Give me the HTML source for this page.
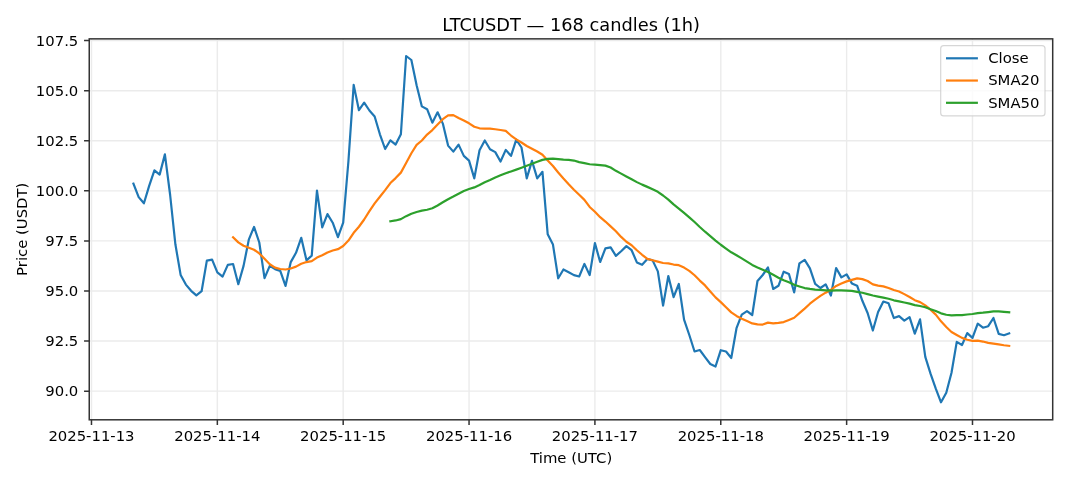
<!DOCTYPE html>
<html><head><meta charset="utf-8"><title>LTCUSDT chart</title>
<style>html,body{margin:0;padding:0;background:#fff}svg{display:block}</style></head>
<body>
<svg width="1068" height="481" viewBox="0 0 1068 481" font-family="DejaVu Sans, Liberation Sans, sans-serif" fill="#000">
<rect width="1068" height="481" fill="#fff"/>
<path d="M91.48,38.86 V419.8 M217.34,38.86 V419.8 M343.19,38.86 V419.8 M469.05,38.86 V419.8 M594.91,38.86 V419.8 M720.77,38.86 V419.8 M846.63,38.86 V419.8 M972.49,38.86 V419.8 M89.25,391.13 H1052.7 M89.25,341.05 H1052.7 M89.25,290.98 H1052.7 M89.25,240.90 H1052.7 M89.25,190.83 H1052.7 M89.25,140.75 H1052.7 M89.25,90.68 H1052.7 M89.25,40.60 H1052.7" stroke="#b0b0b0" stroke-opacity="0.26" stroke-width="1.4" fill="none"/>
<path d="M91.48,419.8 v5.2 M217.34,419.8 v5.2 M343.19,419.8 v5.2 M469.05,419.8 v5.2 M594.91,419.8 v5.2 M720.77,419.8 v5.2 M846.63,419.8 v5.2 M972.49,419.8 v5.2 M89.25,391.13 h-5.2 M89.25,341.05 h-5.2 M89.25,290.98 h-5.2 M89.25,240.90 h-5.2 M89.25,190.83 h-5.2 M89.25,140.75 h-5.2 M89.25,90.68 h-5.2 M89.25,40.60 h-5.2" stroke="#333" stroke-width="1.5" fill="none"/>
<clipPath id="c"><rect x="89.25" y="38.86" width="963.45" height="380.94"/></clipPath>
<g clip-path="url(#c)" fill="none" stroke-width="2.2" stroke-linejoin="round" stroke-linecap="square">
<path d="M133.43,183.60 L138.67,197.10 L143.92,203.30 L149.16,185.90 L154.41,170.30 L159.65,174.60 L164.89,154.40 L170.14,195.00 L175.38,244.30 L180.63,274.90 L185.87,284.60 L191.12,290.80 L196.36,295.30 L201.60,291.20 L206.85,260.60 L212.09,259.70 L217.34,272.40 L222.58,276.60 L227.82,264.90 L233.07,264.00 L238.31,284.20 L243.56,265.90 L248.80,239.70 L254.04,226.90 L259.29,242.50 L264.53,278.10 L269.78,265.90 L275.02,269.10 L280.26,270.90 L285.51,285.90 L290.75,262.10 L296.00,252.80 L301.24,237.80 L306.49,260.30 L311.73,255.70 L316.97,190.70 L322.22,227.40 L327.46,214.10 L332.71,222.70 L337.95,237.10 L343.19,222.70 L348.44,161.00 L353.68,84.90 L358.93,110.20 L364.17,102.70 L369.41,110.50 L374.66,116.50 L379.90,134.30 L385.15,149.00 L390.39,140.30 L395.64,144.60 L400.88,134.30 L406.12,56.00 L411.37,60.00 L416.61,85.30 L421.86,106.40 L427.10,109.20 L432.34,122.70 L437.59,112.30 L442.83,123.60 L448.08,145.60 L453.32,151.60 L458.56,144.60 L463.81,155.90 L469.05,160.60 L474.30,178.40 L479.54,150.30 L484.78,140.50 L490.03,149.30 L495.27,152.10 L500.52,161.50 L505.76,149.90 L511.01,155.90 L516.25,139.60 L521.49,147.50 L526.74,178.40 L531.98,160.90 L537.23,178.40 L542.47,171.80 L547.71,234.30 L552.96,244.60 L558.20,278.30 L563.45,269.50 L568.69,272.20 L573.93,275.10 L579.18,276.50 L584.42,263.90 L589.67,275.10 L594.91,243.10 L600.15,262.00 L605.40,248.40 L610.64,247.40 L615.89,255.90 L621.13,251.20 L626.38,246.10 L631.62,250.20 L636.86,262.40 L642.11,264.80 L647.35,259.00 L652.60,260.40 L657.84,271.40 L663.08,305.60 L668.33,276.00 L673.57,297.10 L678.82,284.00 L684.06,319.60 L689.30,335.00 L694.55,351.50 L699.79,350.00 L705.04,357.10 L710.28,364.00 L715.53,366.50 L720.77,350.20 L726.01,351.50 L731.26,358.00 L736.50,328.20 L741.75,314.70 L746.99,311.20 L752.23,315.00 L757.48,281.00 L762.72,275.00 L767.97,267.40 L773.21,289.00 L778.45,285.80 L783.70,271.70 L788.94,274.00 L794.19,292.40 L799.43,263.30 L804.67,259.90 L809.92,268.40 L815.16,283.90 L820.41,288.00 L825.65,284.30 L830.90,295.50 L836.14,268.00 L841.38,277.40 L846.63,274.40 L851.87,283.40 L857.12,285.70 L862.36,300.80 L867.60,313.00 L872.85,330.50 L878.09,312.00 L883.34,301.50 L888.58,303.30 L893.82,318.00 L899.07,316.10 L904.31,320.60 L909.56,317.10 L914.80,333.70 L920.05,319.30 L925.29,356.80 L930.53,373.70 L935.78,388.70 L941.02,402.30 L946.27,392.80 L951.51,372.80 L956.75,341.90 L962.00,345.00 L967.24,333.10 L972.49,337.90 L977.73,323.70 L982.97,327.70 L988.22,326.20 L993.46,318.00 L998.71,333.90 L1003.95,335.20 L1009.19,333.40" stroke="#1f77b4"/>
<path d="M233.07,237.19 L238.31,242.35 L243.56,245.72 L248.80,247.78 L254.04,249.76 L259.29,253.41 L264.53,258.80 L269.78,264.24 L275.02,267.69 L280.26,269.00 L285.51,269.53 L290.75,268.52 L296.00,266.62 L301.24,263.78 L306.49,262.06 L311.73,261.13 L316.97,257.56 L322.22,255.28 L327.46,252.52 L332.71,250.52 L337.95,249.19 L343.19,245.96 L348.44,240.53 L353.68,232.76 L358.93,226.75 L364.17,219.50 L369.41,211.11 L374.66,203.43 L379.90,196.71 L385.15,190.16 L390.39,183.07 L395.64,178.08 L400.88,172.62 L406.12,163.07 L411.37,153.22 L416.61,144.91 L421.86,140.50 L427.10,134.55 L432.34,130.11 L437.59,124.50 L442.83,119.16 L448.08,115.34 L453.32,115.10 L458.56,118.04 L463.81,120.49 L469.05,123.33 L474.30,126.73 L479.54,128.32 L484.78,128.63 L490.03,128.64 L495.27,129.23 L500.52,130.00 L505.76,130.90 L511.01,135.54 L516.25,139.38 L521.49,142.54 L526.74,146.04 L531.98,148.73 L537.23,151.52 L542.47,154.71 L547.71,160.48 L552.96,166.00 L558.20,172.47 L563.45,178.59 L568.69,184.30 L573.93,189.76 L579.18,194.76 L584.42,199.85 L589.67,206.97 L594.91,211.81 L600.15,217.21 L605.40,221.53 L610.64,226.32 L615.89,231.32 L621.13,236.91 L626.38,241.73 L631.62,245.22 L636.86,250.26 L642.11,254.77 L647.35,258.85 L652.60,260.25 L657.84,261.67 L663.08,263.00 L668.33,263.32 L673.57,264.54 L678.82,265.16 L684.06,267.59 L689.30,270.87 L694.55,275.23 L699.79,280.60 L705.04,285.43 L710.28,291.52 L715.53,297.39 L720.77,302.10 L726.01,307.26 L731.26,312.41 L736.50,315.96 L741.75,318.76 L746.99,321.02 L752.23,323.38 L757.48,324.44 L762.72,324.53 L767.97,322.62 L773.21,323.35 L778.45,322.87 L783.70,322.11 L788.94,319.92 L794.19,317.75 L799.43,313.20 L804.67,308.60 L809.92,303.73 L815.16,299.73 L820.41,295.91 L825.65,292.67 L830.90,289.77 L836.14,285.92 L841.38,283.50 L846.63,281.39 L851.87,279.85 L857.12,278.36 L862.36,279.11 L867.60,281.01 L872.85,284.38 L878.09,285.56 L883.34,286.35 L888.58,287.99 L893.82,290.04 L899.07,291.49 L904.31,294.12 L909.56,296.95 L914.80,300.18 L920.05,302.12 L925.29,305.44 L930.53,309.72 L935.78,314.65 L941.02,321.31 L946.27,326.99 L951.51,332.00 L956.75,334.97 L962.00,337.85 L967.24,339.75 L972.49,340.83 L977.73,340.61 L982.97,341.55 L988.22,342.82 L993.46,343.63 L998.71,344.43 L1003.95,345.26 L1009.19,345.88" stroke="#ff7f0e"/>
<path d="M390.39,221.25 L395.64,220.46 L400.88,219.14 L406.12,216.16 L411.37,213.75 L416.61,211.95 L421.86,210.62 L427.10,209.72 L432.34,208.25 L437.59,205.53 L442.83,202.31 L448.08,199.22 L453.32,196.53 L458.56,193.68 L463.81,191.02 L469.05,189.07 L474.30,187.41 L479.54,184.99 L484.78,182.23 L490.03,179.97 L495.27,177.50 L500.52,175.32 L505.76,173.17 L511.01,171.43 L516.25,169.65 L521.49,167.75 L526.74,165.81 L531.98,163.81 L537.23,161.80 L542.47,159.86 L547.71,158.89 L552.96,158.62 L558.20,159.07 L563.45,159.64 L568.69,159.96 L573.93,160.55 L579.18,162.16 L584.42,163.08 L589.67,164.24 L594.91,164.64 L600.15,165.09 L605.40,165.60 L610.64,167.51 L615.89,170.82 L621.13,173.63 L626.38,176.46 L631.62,179.26 L636.86,182.12 L642.11,184.62 L647.35,186.88 L652.60,189.28 L657.84,191.84 L663.08,195.51 L668.33,199.66 L673.57,204.43 L678.82,208.56 L684.06,212.95 L689.30,217.31 L694.55,222.04 L699.79,227.02 L705.04,231.70 L710.28,236.04 L715.53,240.54 L720.77,244.74 L726.01,248.60 L731.26,252.32 L736.50,255.22 L741.75,258.37 L746.99,261.67 L752.23,264.93 L757.48,267.42 L762.72,269.70 L767.97,272.08 L773.21,274.81 L778.45,277.67 L783.70,280.31 L788.94,282.22 L794.19,284.69 L799.43,286.43 L804.67,288.06 L809.92,288.91 L815.16,289.55 L820.41,289.95 L825.65,290.29 L830.90,290.53 L836.14,290.46 L841.38,290.47 L846.63,290.67 L851.87,290.90 L857.12,291.83 L862.36,292.77 L867.60,294.11 L872.85,295.54 L878.09,296.61 L883.34,297.66 L888.58,298.73 L893.82,300.31 L899.07,301.39 L904.31,302.50 L909.56,303.68 L914.80,305.07 L920.05,306.00 L925.29,307.26 L930.53,309.19 L935.78,311.00 L941.02,313.33 L946.27,314.72 L951.51,315.39 L956.75,315.20 L962.00,315.05 L967.24,314.51 L972.49,314.00 L977.73,313.17 L982.97,312.69 L988.22,312.04 L993.46,311.29 L998.71,311.35 L1003.95,311.80 L1009.19,312.32" stroke="#2ca02c"/>
</g>
<rect x="89.25" y="38.86" width="963.45" height="380.94" fill="none" stroke="#333" stroke-width="1.5"/>
<text x="91.48" y="441.3" font-size="14.83" text-anchor="middle">2025-11-13</text>
<text x="217.34" y="441.3" font-size="14.83" text-anchor="middle">2025-11-14</text>
<text x="343.19" y="441.3" font-size="14.83" text-anchor="middle">2025-11-15</text>
<text x="469.05" y="441.3" font-size="14.83" text-anchor="middle">2025-11-16</text>
<text x="594.91" y="441.3" font-size="14.83" text-anchor="middle">2025-11-17</text>
<text x="720.77" y="441.3" font-size="14.83" text-anchor="middle">2025-11-18</text>
<text x="846.63" y="441.3" font-size="14.83" text-anchor="middle">2025-11-19</text>
<text x="972.49" y="441.3" font-size="14.83" text-anchor="middle">2025-11-20</text>
<text x="78.3" y="396.33" font-size="14.83" text-anchor="end">90.0</text>
<text x="78.3" y="346.25" font-size="14.83" text-anchor="end">92.5</text>
<text x="78.3" y="296.18" font-size="14.83" text-anchor="end">95.0</text>
<text x="78.3" y="246.10" font-size="14.83" text-anchor="end">97.5</text>
<text x="78.3" y="196.03" font-size="14.83" text-anchor="end">100.0</text>
<text x="78.3" y="145.95" font-size="14.83" text-anchor="end">102.5</text>
<text x="78.3" y="95.88" font-size="14.83" text-anchor="end">105.0</text>
<text x="78.3" y="45.80" font-size="14.83" text-anchor="end">107.5</text>
<text x="571.2" y="462.6" font-size="14.83" text-anchor="middle">Time (UTC)</text>
<text transform="translate(26.7,229.3) rotate(-90)" font-size="14.83" text-anchor="middle">Price (USDT)</text>
<text x="571.2" y="31.0" font-size="17.8" text-anchor="middle">LTCUSDT — 168 candles (1h)</text>
<rect x="940.7" y="45.6" width="104.29999999999995" height="70.30000000000001" rx="3" ry="3" fill="#fff" fill-opacity="0.8" stroke="#ccc" stroke-opacity="0.8" stroke-width="1.19"/>
<path d="M947.1,58.30 h29.7" stroke="#1f77b4" stroke-width="2.2" stroke-linecap="square" fill="none"/>
<text x="988.2" y="63.00" font-size="14.83">Close</text>
<path d="M947.1,80.55 h29.7" stroke="#ff7f0e" stroke-width="2.2" stroke-linecap="square" fill="none"/>
<text x="988.2" y="85.25" font-size="14.83">SMA20</text>
<path d="M947.1,102.80 h29.7" stroke="#2ca02c" stroke-width="2.2" stroke-linecap="square" fill="none"/>
<text x="988.2" y="107.50" font-size="14.83">SMA50</text>
</svg>
</body></html>
